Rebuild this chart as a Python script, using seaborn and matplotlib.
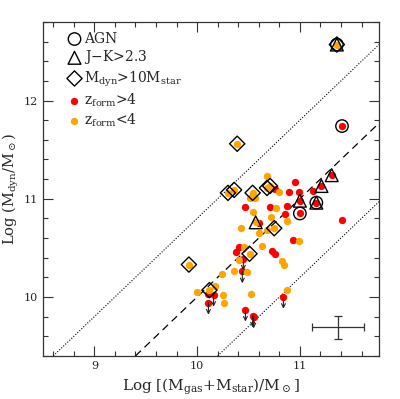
import numpy as np
import seaborn as sns
import matplotlib.pyplot as plt

# z_form < 4 (orange)
orange_x = [11.36, 10.39, 10.30, 10.36, 10.54, 10.51, 10.56, 10.68, 10.71, 10.68,
            10.80, 10.77, 10.54, 10.87, 10.57, 10.43, 10.75, 10.68, 10.60, 10.72,
            10.63, 10.99, 10.83, 10.85, 10.51, 10.46, 10.41, 9.92, 10.24, 10.36,
            10.49, 10.00, 10.12, 10.17, 10.25, 10.26, 10.52, 10.87]
orange_y = [12.57, 11.56, 11.06, 11.09, 11.06, 11.01, 11.01, 11.11, 11.13, 11.23,
            11.07, 10.91, 10.87, 10.77, 10.76, 10.70, 10.70, 10.68, 10.65, 10.81,
            10.52, 10.57, 10.37, 10.33, 10.44, 10.51, 10.38, 10.33, 10.23, 10.26,
            10.25, 10.05, 10.07, 10.11, 10.02, 9.94, 10.03, 10.07]

# z_form > 4 (red)
red_x = [11.41, 10.95, 10.76, 10.89, 10.99, 11.13, 11.00, 11.21, 11.31, 11.16,
         11.00, 11.41, 10.86, 10.87, 10.71, 10.47, 10.60, 10.93, 10.73, 10.76,
         10.41, 10.38, 10.11]
red_y = [11.74, 11.17, 11.10, 11.07, 11.07, 11.08, 10.98, 11.13, 11.24, 10.96,
         10.85, 10.78, 10.84, 10.93, 10.92, 10.92, 10.75, 10.58, 10.47, 10.44,
         10.51, 10.46, 10.03]

# red upper limits (drawn with arrows)
lim_x = [10.45, 10.44, 10.16, 10.11, 10.47, 10.54, 10.55, 10.84]
lim_y = [10.39, 10.26, 10.02, 9.94, 9.87, 9.81, 9.80, 10.00]

agn_x = [11.36, 11.41, 11.16, 11.00]
agn_y = [12.57, 11.74, 10.96, 10.85]

jk_x = [11.36, 10.57, 11.00, 11.21, 11.31, 11.16]
jk_y = [12.57, 10.76, 10.98, 11.13, 11.24, 10.96]

dyn_x = [11.36, 10.39, 10.30, 10.36, 10.54, 10.68, 10.71, 10.75, 10.51, 9.92, 10.12]
dyn_y = [12.57, 11.56, 11.06, 11.09, 11.06, 11.11, 11.13, 10.70, 10.44, 10.33, 10.07]

# typical error bar
err_x, err_y = [11.37], [9.69]
err_dx, err_dy = [0.25], [0.12]

sns.set_style("ticks")
plt.rcParams['font.family'] = ['DejaVu Serif']
plt.rcParams['mathtext.fontset'] = 'dejavuserif'

fig = plt.figure(figsize=(4, 3.99), dpi=100)
ax = fig.add_axes([0.1075, 0.108, 0.84, 0.837])

# 1:1 line and +-0.8 dex
ax.axline((10, 10), slope=1, color='black', lw=0.9, ls=(0, (6, 4)))
for off in [0.8, -0.8]:
    ax.axline((10, 10 + off), slope=1, color='black', lw=0.8, ls=(0, (1, 1.5)))

sns.scatterplot(x=agn_x, y=agn_y, marker='o', s=80, facecolor='none',
                edgecolor='black', linewidth=1, label='AGN', ax=ax, zorder=4)
sns.scatterplot(x=jk_x, y=jk_y, marker='^', s=85, facecolor='none',
                edgecolor='black', linewidth=1, label=r'J$-$K>2.3', ax=ax, zorder=4)
sns.scatterplot(x=dyn_x, y=dyn_y, marker='D', s=60, facecolor='none',
                edgecolor='black', linewidth=1,
                label=r'M$_{\rm dyn}$>10M$_{\rm star}$', ax=ax, zorder=4)
sns.scatterplot(x=red_x + lim_x, y=red_y + lim_y, color='red', s=28,
                linewidth=0, label=r'z$_{\rm form}$>4', ax=ax, zorder=2)
sns.scatterplot(x=orange_x, y=orange_y, color='orange', s=28,
                linewidth=0, label=r'z$_{\rm form}$<4', ax=ax, zorder=3)

for x, y in zip(lim_x, lim_y):
    ax.annotate('', xy=(x, y - 0.12), xytext=(x, y),
                arrowprops=dict(arrowstyle='->', color='#222222', lw=0.8,
                                shrinkA=0, shrinkB=0, mutation_scale=7))

ax.errorbar(err_x, err_y, xerr=err_dx, yerr=err_dy, fmt='none',
            ecolor='#333333', elinewidth=0.9, capsize=3, capthick=0.9)

ax.set_xlim(8.5, 11.77)
ax.set_ylim(9.4, 12.8)
ax.set_xticks([9, 10, 11])
ax.set_yticks([10, 11, 12])
ax.xaxis.set_minor_locator(plt.MultipleLocator(0.2))
ax.yaxis.set_minor_locator(plt.MultipleLocator(0.2))
ax.tick_params(which='both', direction='in', top=True, right=True,
               labelsize=8, width=0.8, color='#333333')
ax.tick_params(which='major', length=7)
ax.tick_params(which='minor', length=3.5)
for sp in ax.spines.values():
    sp.set_linewidth(0.9)
    sp.set_color('#333333')

ax.set_xlabel(r'Log [(M$_{\rm gas}$+M$_{\rm star}$)/M$_\odot$]', fontsize=11)
ax.set_ylabel(r'Log (M$_{\rm dyn}$/M$_\odot$)', fontsize=10.5, labelpad=2)

ax.legend(loc='upper left', bbox_to_anchor=(0.04, 1.0), frameon=False,
          fontsize=10, handletextpad=0.1, labelspacing=0.2,
          borderaxespad=0.3, handlelength=1.2)

plt.savefig('out.png', dpi=100)
